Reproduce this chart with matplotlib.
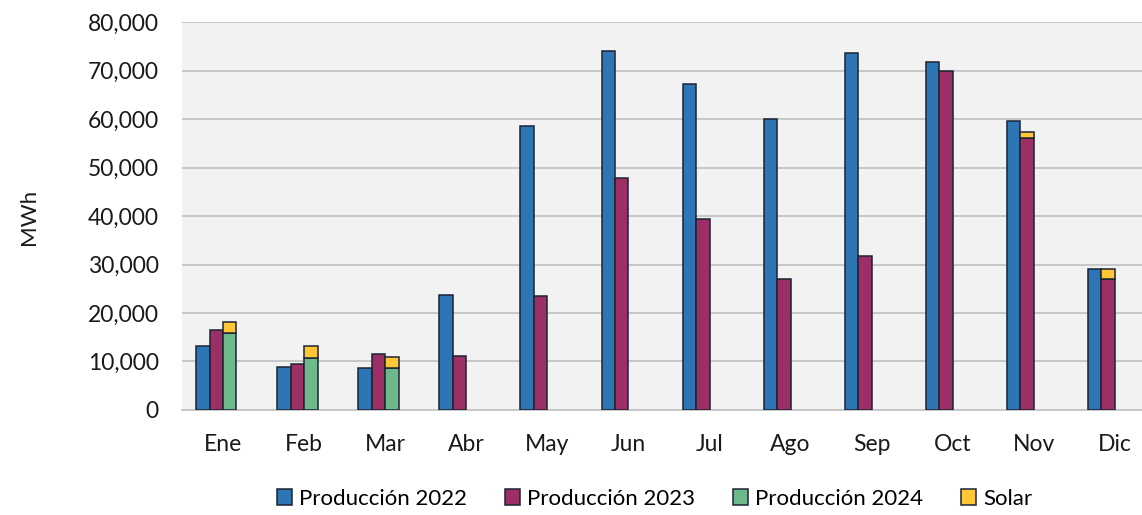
import numpy as np
import matplotlib
matplotlib.use("Agg")
import matplotlib.pyplot as plt
from matplotlib.ticker import FuncFormatter

# data (MWh)
months = ['Ene', 'Feb', 'Mar', 'Abr', 'May', 'Jun', 'Jul', 'Ago', 'Sep', 'Oct', 'Nov', 'Dic']
prod_2022 = [13250, 8800, 8550, 23750, 58500, 74150, 67250, 60000, 73550, 71800, 59650, 29050]
prod_2023 = [16400, 9400, 11450, 11200, 23450, 47750, 39450, 27100, 31700, 69850, 56050, 27050]
prod_2024 = [15850, 10750, 8750, 0, 0, 0, 0, 0, 0, 0, 0, 0]
solar = [2350, 2450, 2080, 0, 0, 0, 0, 0, 0, 0, 1350, 2000]
# which series the solar bar sits on: 2024 in Q1, 2023 in Nov/Dic
solar_on_2023 = [False, False, False, False, False, False, False, False, False, False, True, True]

plt.rcParams['font.family'] = ['Lato', 'DejaVu Sans']

c22 = '#2E75B6'
c23 = '#9C2F66'
c24 = '#6DB98C'
csol = '#FFC636'
edge = '#1B2433'

fig = plt.figure(figsize=(11.42, 5.15), dpi=100)
ax = fig.add_axes([0.1598, 0.204, 0.852, 0.753])
ax.set_facecolor('#F2F2F2')

x = np.arange(len(months))
w = 0.166

ax.bar(x - 1.5 * w, prod_2022, w, color=c22, edgecolor=edge, linewidth=1.1, label='Producción 2022', zorder=3)
ax.bar(x - 0.5 * w, prod_2023, w, color=c23, edgecolor=edge, linewidth=1.1, label='Producción 2023', zorder=3)
m24 = np.array(prod_2024) > 0
ax.bar(x[m24] + 0.5 * w, np.array(prod_2024)[m24], w, color=c24, edgecolor=edge, linewidth=1.1,
       label='Producción 2024', zorder=3)

sol_x = np.where(solar_on_2023, x - 0.5 * w, x + 0.5 * w)
sol_base = np.where(solar_on_2023, prod_2023, prod_2024)
ms = np.array(solar) > 0
ax.bar(sol_x[ms], np.array(solar)[ms], w, bottom=sol_base[ms], color=csol, edgecolor=edge,
       linewidth=1.1, label='Solar', zorder=3)

ax.set_xlim(-0.5, len(months) - 0.5)
ax.set_ylim(0, 80000)
ax.set_yticks(np.arange(0, 80001, 10000))
ax.yaxis.set_major_formatter(FuncFormatter(lambda v, p: f'{int(v):,}'))
ax.set_xticks(x)
ax.set_xticklabels(months)
ax.tick_params(axis='both', length=0, labelsize=16.5, colors='#1a1a1a')
ax.tick_params(axis='x', pad=17)
ax.tick_params(axis='y', pad=17)
ax.grid(axis='y', color='#C4C4C4', linewidth=1.3, zorder=0)
for s in ['top', 'right', 'left']:
    ax.spines[s].set_visible(False)
ax.spines['bottom'].set_color('#C4C4C4')
ax.spines['bottom'].set_linewidth(1.3)

fig.text(0.025, 0.579, 'MWh', rotation=90, ha='center', va='center', fontsize=16, color='#1a1a1a')

fig.legend(loc='center', bbox_to_anchor=(0.573, 0.032), ncol=4, frameon=False, fontsize=16,
           handlelength=0.7, handleheight=0.7, handletextpad=0.3, columnspacing=1.7)

fig.savefig('out.png', dpi=100)
